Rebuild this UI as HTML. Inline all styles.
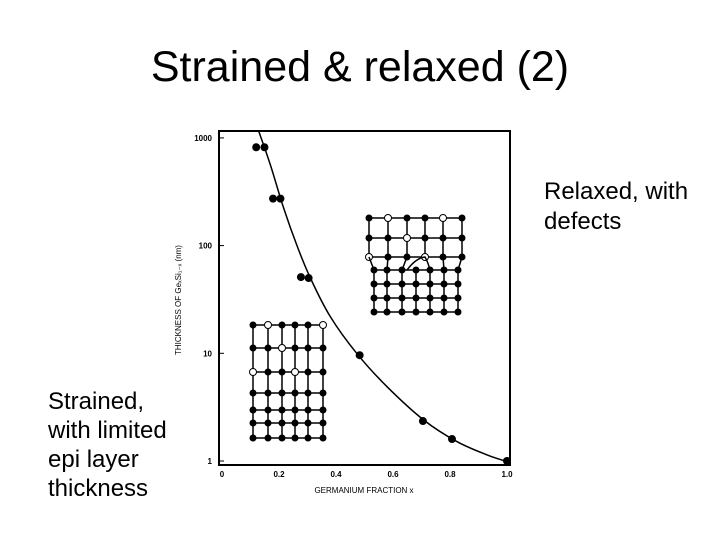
<!DOCTYPE html>
<html><head><meta charset="utf-8"><style>
body{margin:0;background:#fff;}
#root{position:relative;width:720px;height:540px;overflow:hidden;font-family:"Liberation Sans",sans-serif;}
.t{position:absolute;color:#000;}
</style></head><body>
<div id="root">
<div class="t" style="left:0;width:720px;top:43px;text-align:center;font-size:43px;">Strained &amp; relaxed (2)</div>
<div class="t" style="left:544px;top:177px;font-size:24px;line-height:30px;">Relaxed, with<br>defects</div>
<div class="t" style="left:48px;top:387px;font-size:24px;line-height:29px;">Strained,<br>with limited<br>epi layer<br>thickness</div>
<svg id="chart" width="720" height="540" style="position:absolute;left:0;top:0;"></svg>
</div>
<script>
const xTicks=[0,0.2,0.4,0.6,0.8,1.0];
const xTickLabels=["0","0.2","0.4","0.6","0.8","1.0"];
const yTicks=[1,10,100,1000];
const yTickLabels=["1","10","100","1000"];
const pointX=[0.12,0.149,0.179,0.205,0.277,0.304,0.483,0.705,0.807,1.0];
const pointY=[819,819,273,273,51,50,9.6,2.35,1.6,1.0];
const curveX=[0.129,0.17,0.216,0.263,0.31,0.38,0.474,0.579,0.708,0.825,0.93,0.994];
const curveY=[1150,560,224,100,50,21.9,9.9,4.9,2.4,1.51,1.14,1.0];
const NS="http://www.w3.org/2000/svg";
const svg=document.getElementById('chart');
const X=v=>222+v*285;
const Y=v=>461-Math.log10(v)*107.7;
function mk(tag,at,parent){const e=document.createElementNS(NS,tag);for(const k in at)e.setAttribute(k,at[k]);(parent||svg).appendChild(e);return e;}
const clip=mk('clipPath',{id:'pc'});mk('rect',{x:219,y:131,width:291,height:334},clip);
const frame=mk('rect',{x:219,y:131,width:291,height:334,fill:'none',stroke:'#000','stroke-width':2});


xTicks.forEach((v,i)=>{
 const t=mk('text',{x:X(v),y:477,'text-anchor':'middle','font-size':8,'font-weight':'bold','font-family':'Liberation Sans, sans-serif'});
 t.textContent=xTickLabels[i];
 
 
});
yTicks.forEach((v,i)=>{
 const t=mk('text',{x:212,y:Y(v)+3,'text-anchor':'end','font-size':8,'font-weight':'bold','font-family':'Liberation Sans, sans-serif'});
 t.textContent=yTickLabels[i];
 
 
 mk('line',{x1:219,x2:224,y1:Y(v),y2:Y(v),stroke:'#000','stroke-width':1});
});
const xt=mk('text',{x:364,y:493,'text-anchor':'middle','font-size':8,'font-family':'Liberation Sans, sans-serif'});
xt.textContent='GERMANIUM FRACTION x';


const yt=mk('text',{x:0,y:0,'text-anchor':'middle','font-size':8,'font-family':'Liberation Sans, sans-serif',transform:'translate(181,300) rotate(-90)'});
yt.textContent='THICKNESS OF GeₓSi₁₋ₓ (nm)';


const P=curveX.map((v,i)=>[X(v),Y(curveY[i])]);
let d='M'+P[0][0].toFixed(1)+','+P[0][1].toFixed(1);
for(let i=0;i<P.length-1;i++){
 const p0=P[Math.max(0,i-1)],p1=P[i],p2=P[i+1],p3=P[Math.min(P.length-1,i+2)];
 const c1=[p1[0]+(p2[0]-p0[0])/6,p1[1]+(p2[1]-p0[1])/6];
 const c2=[p2[0]-(p3[0]-p1[0])/6,p2[1]-(p3[1]-p1[1])/6];
 d+='C'+c1.map(n=>n.toFixed(1)).join(',')+' '+c2.map(n=>n.toFixed(1)).join(',')+' '+p2.map(n=>n.toFixed(1)).join(',');
}
const cp=mk('path',{d:d,fill:'none',stroke:'#000','stroke-width':1.5,'clip-path':'url(#pc)'});


pointX.forEach((v,i)=>{
 const c=mk('circle',{cx:X(v),cy:Y(pointY[i]),r:4,fill:'#000'});
 
 
});
function lattice(cols,rows,opens,name){
 const g=mk('g',{});
 
 
 cols.forEach(cx=>mk('line',{x1:cx,x2:cx,y1:rows[0],y2:rows[rows.length-1],stroke:'#000','stroke-width':1.5},g));
 rows.forEach(cy=>mk('line',{x1:cols[0],x2:cols[cols.length-1],y1:cy,y2:cy,stroke:'#000','stroke-width':1.5},g));
 cols.forEach((cx,ci)=>rows.forEach((cy,ri)=>{
  const o=opens.some(p=>p[0]===ci&&p[1]===ri);
  mk('circle',{cx:cx,cy:cy,r:o?3.5:3,fill:o?'#fff':'#000',stroke:'#000','stroke-width':1},g);
 }));
 return g;
}
lattice([253,268,282,295,308,323],[325,348,372,393,410,423,438],[[1,0],[5,0],[2,1],[0,2],[3,2]],'strained-lattice');
lattice([369,388,407,425,443,462],[218,238,257],[[1,0],[4,0],[2,1],[0,2],[3,2]],'relaxed-lattice-top');
lattice([374,387,402,416,430,444,458],[270,284,298,312],[],'relaxed-lattice-bottom');
[[369,374],[388,387],[407,402],[443,444],[462,458]].forEach(p=>mk('line',{x1:p[0],y1:257,x2:p[1],y2:270,stroke:'#000','stroke-width':1.5}));
mk('path',{d:'M407,270 Q416,258 425,257 Q428,262 430,270',fill:'none',stroke:'#000','stroke-width':1.5});
</script>
</body></html>
